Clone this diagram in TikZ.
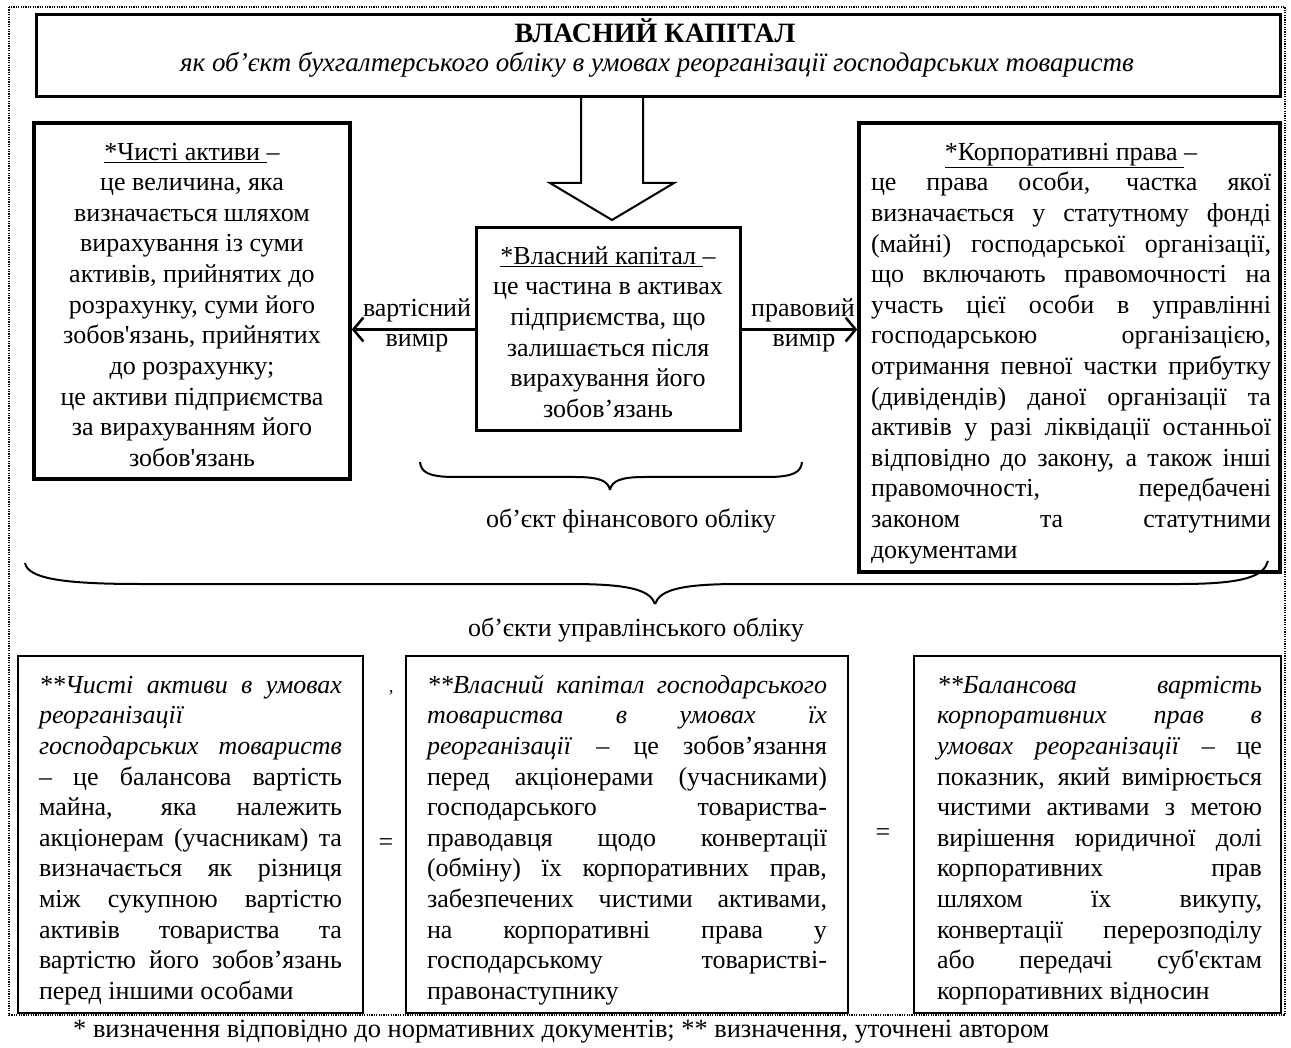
\documentclass[tikz,border=0pt]{standalone}
\usepackage{fontspec}
\setmainfont{Liberation Serif}[Ligatures=TeXOff]
\usetikzlibrary{arrows.meta}
\newcommand\jR[1]{\makebox[400pt][s]{#1}}
\newcommand\jA[1]{\makebox[303pt][s]{#1}}
\newcommand\jB[1]{\makebox[400pt][s]{#1}}
\newcommand\jC[1]{\makebox[325pt][s]{#1}}
\newcommand\fl{\rule{0pt}{24pt}}
\begin{document}
\begin{tikzpicture}[x=1pt,y=-1pt,
  txt/.style={inner sep=0pt, font=\fontsize{26}{30.6}\selectfont},
  thickbox/.style={draw, line width=3.5pt, inner sep=0pt},
  midbox/.style={draw, line width=3pt, inner sep=0pt},
  thinbox/.style={draw, line width=1.8pt, inner sep=0pt},
  frame/.style={line width=1.2pt, dash pattern=on 1.2pt off 1.2pt},
  conn/.style={line width=2.5pt, -{Straight Barb[length=10pt,width=24pt]}},
  hollow/.style={line width=2pt, line join=miter},
  brace/.style={line width=2pt},
]
\useasboundingbox (0,0) rectangle (1291,1048);
\fill[white] (0,0) rectangle (1291,1048);

% outer dotted frame
\draw[frame] (9,7) rectangle (1285,1015);

% boxes
\node[midbox, minimum width=1244pt, minimum height=82pt] (title) at (658,56) {};
\node[thickbox, minimum width=316pt, minimum height=356pt] (lbox) at (192,301) {};
\node[midbox, minimum width=264pt, minimum height=203pt] (cbox) at (608,329.5) {};
\node[thickbox, minimum width=421pt, minimum height=449pt] (rbox) at (1069.5,347.5) {};
\node[thinbox, minimum width=345pt, minimum height=357pt] (boxA) at (190.5,834.5) {};
\node[thinbox, minimum width=442pt, minimum height=357pt] (boxB) at (627,834.5) {};
\node[thinbox, minimum width=367pt, minimum height=357pt] (boxC) at (1097.5,834.5) {};

% title texts
\node[inner sep=0pt, font=\fontsize{28}{32}\selectfont\bfseries, anchor=base] (titleA) at (655,43) {ВЛАСНИЙ КАПІТАЛ};
\node[inner sep=0pt, font=\fontsize{27}{32}\selectfont\itshape, anchor=base] (titleB) at (657,72) {як об’єкт бухгалтерського обліку в умовах реорганізації господарських товариств};

% left box text
\node[txt, anchor=north, align=center] (ltext) at (192,136) {\fl\underline{*Чисті активи }–\\
це величина, яка\\
визначається шляхом\\
вирахування із суми\\
активів, прийнятих до\\
розрахунку, суми його\\
зобов'язань, прийнятих\\
до розрахунку;\\
це активи підприємства\\
за вирахуванням його\\
зобов'язань};

% centre box text
\node[txt, anchor=north, align=center] (ctext) at (608,240) {\fl\underline{*Власний капітал }–\\
це частина в активах\\
підприємства, що\\
залишається після\\
вирахування його\\
зобов’язань};

% right box text
\node[txt, anchor=north, align=left] (rtext) at (1071,136) {\fl\makebox[400pt][c]{\underline{*Корпоративні права }–}\\
\jR{це права особи, частка якої}\\
\jR{визначається у статутному фонді}\\
\jR{(майні) господарської організації,}\\
\jR{що включають правомочності на}\\
\jR{участь цієї особи в управлінні}\\
\jR{господарською організацією,}\\
\jR{отримання певної частки прибутку}\\
\jR{(дивідендів) даної організації та}\\
\jR{активів у разі ліквідації останньої}\\
\jR{відповідно до закону, а також інші}\\
\jR{правомочності, передбачені}\\
\jR{законом та статутними}\\
документами};

% hollow arrow from title to centre box
\draw[hollow] (581,97) -- (581,183) -- (550,183) -- (612,220) -- (674,183) -- (643,183) -- (643,97);

% side arrows
\draw[conn] (cbox.west) -- (cbox.west -| lbox.east);
\draw[conn] (cbox.east) -- (cbox.east -| rbox.west);
\node[txt, anchor=base] (vart) at (417,317) {вартісний};
\node[txt, anchor=base] (vym1) at (417,347) {вимір};
\node[txt, anchor=base] (prav) at (803,317) {правовий};
\node[txt, anchor=base] (vym2) at (804,347) {вимір};

% financial brace
\draw[brace] (420,462) .. controls (421,472) and (428,477) .. (455,477) -- (575,477)
  .. controls (600,477) and (608,481) .. (610,490);
\draw[brace] (610,490) .. controls (612,481) and (620,477) .. (645,477) -- (767,477)
  .. controls (794,477) and (801,472) .. (802,462);
\node[txt, anchor=base] (fin) at (631,527) {об’єкт фінансового обліку};

% management brace
\draw[brace] (25,563) .. controls (28,578) and (60,584) .. (140,584) -- (570,584)
  .. controls (630,584) and (650,590) .. (655,604);
\draw[brace] (655,604) .. controls (660,590) and (680,584) .. (740,584) -- (1180,584)
  .. controls (1245,584) and (1264,576) .. (1268,561);
\node[txt, anchor=base] (mgmt) at (636,636) {об’єкти управлінського обліку};

% bottom box texts
\node[txt, anchor=north, align=left] (textA) at (190.5,669) {\fl\jA{\itshape **Чисті активи в умовах}\\
\textit{реорганізації}\\
\jA{\itshape господарських товариств}\\
\jA{– це балансова вартість}\\
\jA{майна, яка належить}\\
\jA{акціонерам (учасникам) та}\\
\jA{визначається як різниця}\\
\jA{між сукупною вартістю}\\
\jA{активів товариства та}\\
\jA{вартістю його зобов’язань}\\
перед іншими особами};

\node[txt, anchor=north, align=left] (textB) at (627,669) {\fl\jB{\itshape **Власний капітал господарського}\\
\jB{\itshape товариства в умовах їх}\\
\jB{\textit{реорганізації} – це зобов’язання}\\
\jB{перед акціонерами (учасниками)}\\
\jB{господарського товариства-}\\
\jB{праводавця щодо конвертації}\\
\jB{(обміну) їх корпоративних прав,}\\
\jB{забезпечених чистими активами,}\\
\jB{на корпоративні права у}\\
\jB{господарському товаристві-}\\
правонаступнику};

\node[txt, anchor=north, align=left] (textC) at (1099.5,669) {\fl\jC{\itshape **Балансова вартість}\\
\jC{\itshape корпоративних прав в}\\
\jC{\textit{умовах реорганізації} – це}\\
\jC{показник, який вимірюється}\\
\jC{чистими активами з метою}\\
\jC{вирішення юридичної долі}\\
\jC{корпоративних прав}\\
\jC{шляхом їх викупу,}\\
\jC{конвертації перерозподілу}\\
\jC{або передачі суб'єктам}\\
корпоративних відносин};

% equals signs and stray mark
\node[txt, anchor=base] (eq1) at (386,850) {=};
\node[txt, anchor=base] (eq2) at (883,840) {=};
\node[inner sep=0pt, font=\fontsize{18}{20}\selectfont, anchor=base] (tick) at (391,702) {’};

% footer
\node[inner sep=0pt, font=\fontsize{26.4}{30}\selectfont, anchor=base west] (foot) at (73,1037) {* визначення відповідно до нормативних документів; ** визначення, уточнені автором};
\end{tikzpicture}
\end{document}
